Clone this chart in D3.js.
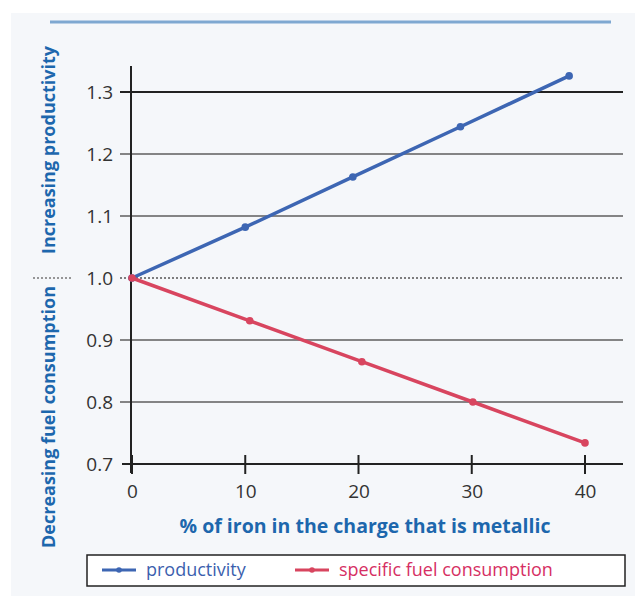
<!DOCTYPE html>
<html>
<head>
<meta charset="utf-8">
<script src="https://cdn.jsdelivr.net/npm/d3@7"></script>
<style>
  html, body { margin: 0; padding: 0; background: #ffffff; }
  svg { display: block; }
  text { font-family: "Open Sans", "DejaVu Sans", sans-serif; }
</style>
</head>
<body>
<svg id="chart" width="635" height="596"></svg>
<script>
// Share of metallic iron in the charge (%), and the relative indices it drives
const productivityX = [0, 10, 19.5, 29, 38.6];
const productivityY = [1.0, 1.082, 1.163, 1.244, 1.326];
const fuelX = [0, 10.4, 20.3, 30.1, 40];
const fuelY = [1.0, 0.931, 0.865, 0.80, 0.734];

const xTicks = [0, 10, 20, 30, 40];
const yTicks = [0.7, 0.8, 0.9, 1.0, 1.1, 1.2, 1.3];
const yTickLabels = ["0.7", "0.8", "0.9", "1.0", "1.1", "1.2", "1.3"];

const seriesNames = ["productivity", "specific fuel consumption"];
const xTitle = "% of iron in the charge that is metallic";
const yTitleUp = "Increasing productivity";
const yTitleDown = "Decreasing fuel consumption";

const BLUE = "#3d66b3";
const RED = "#d8455f";
const TITLE = "#1d67ad";

const svg = d3.select("#chart");

// panel background and the rule across the top
svg.append("rect").attr("x", 11).attr("y", 13).attr("width", 624).attr("height", 583)
  .attr("fill", "#f5f7fa");
svg.append("line").attr("x1", 50).attr("x2", 611).attr("y1", 22).attr("y2", 22)
  .attr("stroke", "#7fa8d1").attr("stroke-width", 3);

const x = d3.scaleLinear().domain([0, 40]).range([132, 585]);
const y = d3.scaleLinear().domain([0.7, 1.3]).range([464, 92]);
const gridRight = 623;

// horizontal grid lines (the 1.0 reference is dotted, 1.3 is heavier)
svg.append("g").selectAll("line").data(yTicks.filter(v => v > 0.7)).join("line")
  .attr("x1", 120).attr("x2", gridRight)
  .attr("y1", d => y(d)).attr("y2", d => y(d))
  .attr("stroke", d => d === 1.0 ? "#555" : (d === 1.3 ? "#222" : "#5e5e5e"))
  .attr("stroke-width", d => d === 1.3 ? 2.2 : (d === 1.0 ? 1.4 : 1.7))
  .attr("stroke-dasharray", d => d === 1.0 ? "2,2" : null);

// dotted lead-in to the 1.0 label
svg.append("line").attr("x1", 33).attr("x2", 73).attr("y1", y(1.0)).attr("y2", y(1.0))
  .attr("stroke", "#777").attr("stroke-width", 1.4).attr("stroke-dasharray", "2,2");

// y axis labels
const yAxis = d3.axisLeft(y).tickValues(yTicks)
  .tickFormat((d, i) => yTickLabels[i]).tickSize(0).tickPadding(18);
const gy = svg.append("g").attr("transform", "translate(131,0)").call(yAxis);
gy.select(".domain").remove();
gy.selectAll("text").attr("font-size", 19).attr("fill", "#333").attr("font-family", "Open Sans");

// axis lines
svg.append("line").attr("x1", 131).attr("x2", 131).attr("y1", 66).attr("y2", 473)
  .attr("stroke", "#222").attr("stroke-width", 2);
svg.append("line").attr("x1", 122).attr("x2", gridRight).attr("y1", y(0.7)).attr("y2", y(0.7))
  .attr("stroke", "#222").attr("stroke-width", 2.2);

// x axis ticks and labels
const xAxis = d3.axisBottom(x).tickValues(xTicks).tickSize(0).tickPadding(21);
const gx = svg.append("g").attr("transform", `translate(0,${y(0.7)})`).call(xAxis);
gx.select(".domain").remove();
gx.selectAll("text").attr("font-size", 19).attr("fill", "#333").attr("font-family", "Open Sans");
svg.append("g").selectAll("line").data(xTicks).join("line")
  .attr("x1", d => x(d)).attr("x2", d => x(d))
  .attr("y1", y(0.7) - 9).attr("y2", y(0.7) + 10)
  .attr("stroke", "#222").attr("stroke-width", 2);

// data lines
const line = d3.line().x(d => x(d[0])).y(d => y(d[1]));
const series = [
  { pts: d3.zip(productivityX, productivityY), color: BLUE },
  { pts: d3.zip(fuelX, fuelY), color: RED }
];
series.forEach(s => {
  svg.append("path").datum(s.pts).attr("d", line)
    .attr("fill", "none").attr("stroke", s.color).attr("stroke-width", 3.5)
    .attr("stroke-linecap", "round");
  svg.append("g").selectAll("circle").data(s.pts).join("circle")
    .attr("cx", d => x(d[0])).attr("cy", d => y(d[1])).attr("r", 3.8)
    .attr("fill", s.color);
});

// axis titles
svg.append("text").attr("x", 365).attr("y", 533).attr("text-anchor", "middle")
  .attr("font-size", 19.5).attr("font-weight", "bold").attr("fill", TITLE).text(xTitle);
svg.append("text").attr("transform", "translate(55,150) rotate(-90)")
  .attr("text-anchor", "middle").attr("font-size", 18).attr("font-weight", "bold")
  .attr("fill", TITLE).text(yTitleUp);
svg.append("text").attr("transform", "translate(55,417) rotate(-90)")
  .attr("text-anchor", "middle").attr("font-size", 18).attr("font-weight", "bold")
  .attr("fill", TITLE).text(yTitleDown);

// legend
const lg = svg.append("g");
lg.append("rect").attr("x", 87).attr("y", 555).attr("width", 538).attr("height", 31)
  .attr("fill", "#ffffff").attr("stroke", "#222").attr("stroke-width", 1.5);
const legendItems = [
  { name: seriesNames[0], color: BLUE, text: "#3b5fae", x0: 102 },
  { name: seriesNames[1], color: RED, text: "#d62f63", x0: 295 }
];
legendItems.forEach(it => {
  lg.append("line").attr("x1", it.x0).attr("x2", it.x0 + 34).attr("y1", 570).attr("y2", 570)
    .attr("stroke", it.color).attr("stroke-width", 3);
  lg.append("circle").attr("cx", it.x0 + 17).attr("cy", 570).attr("r", 2.8).attr("fill", it.color);
  lg.append("text").attr("x", it.x0 + 44).attr("y", 576).attr("font-size", 18)
    .attr("fill", it.text).text(it.name);
});
</script>
</body>
</html>
